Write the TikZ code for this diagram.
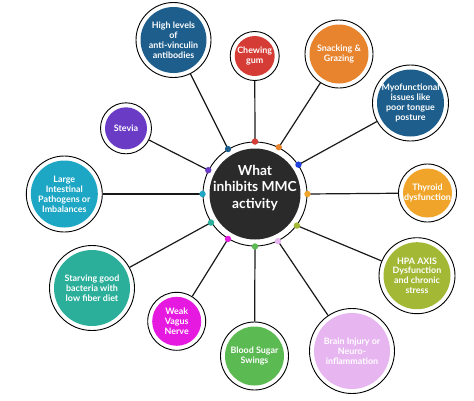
\documentclass[tikz,border=0pt]{standalone}
\usepackage{fontspec}
\setmainfont{Lato}
\begin{document}
\begin{tikzpicture}[x=1pt,y=-1pt,
  bub/.style 2 args={circle, draw=black, line width=0.9pt, fill=white,
    minimum size=#1pt, inner sep=0pt,
    path picture={\fill[#2] (path picture bounding box.center) circle[radius=#1/2*1pt-4.5pt];},
    font=\bfseries\fontsize{8.9}{9.9}\selectfont, text=white, align=center},
  conn/.style={line width=1.2pt, draw=black!90}
]
\definecolor{cdblue}{HTML}{1D5E8C}
\definecolor{cred}{HTML}{D63C36}
\definecolor{corange}{HTML}{E8832E}
\definecolor{cbright}{HTML}{2040E0}
\definecolor{cgold}{HTML}{F0A52A}
\definecolor{colive}{HTML}{A3B936}
\definecolor{clav}{HTML}{E7B5F0}
\definecolor{cgreen}{HTML}{5BBA52}
\definecolor{cmag}{HTML}{E619E0}
\definecolor{cteal}{HTML}{2BAF9A}
\definecolor{ccyan}{HTML}{1EA7C5}
\definecolor{cpurple}{HTML}{6A3CC6}
\definecolor{cdark}{HTML}{2A2A2A}
\useasboundingbox (0,0) rectangle (474,400);
% central
\node[circle, draw=black, line width=0.9pt, fill=white, minimum size=104pt, inner sep=0pt,
  path picture={\fill[cdark] (path picture bounding box.center) circle[radius=45.5pt];}]
  (c) at (255,194) {};
\node[font=\bfseries\fontsize{13.8}{16.3}\selectfont, text=white, align=center]
  (ct) at (255,188) {What\\inhibits MMC\\activity};
% outer bubbles
\node[bub={75}{cdblue}] (hl) at (173.5,40) {High levels\\of\\anti-vinculin\\antibodies};
\node[bub={49}{cred}] (cg) at (254.7,56) {Chewing\\gum};
\node[bub={68}{corange}] (sg) at (339,54) {Snacking \&\\Grazing};
\node[bub={76}{cdblue}] (my) at (410.5,103) {Myofunctional\\issues like\\poor tongue\\posture};
\node[bub={58}{cgold}] (th) at (427.5,193) {Thyroid\\dysfunction};
\node[bub={76}{colive}] (hp) at (417,275.7) {HPA AXIS\\Dysfunction\\and chronic\\stress};
\node[bub={85}{clav}] (br) at (352,351) {Brain Injury or\\Neuro-\\inflammation};
\node[bub={68}{cgreen}] (bs) at (254.5,356) {Blood Sugar\\Swings};
\node[bub={58}{cmag}] (wv) at (176.7,321.3) {Weak\\Vagus\\Nerve};
\node[bub={85}{cteal}] (sb) at (92,288) {Starving good\\bacteria with\\low fiber diet};
\node[bub={76}{ccyan}] (li) at (64.3,194) {Large\\Intestinal\\Pathogens or\\Imbalances};
\node[bub={51}{cpurple}] (st) at (126,128.3) {Stevia};
% connectors
\foreach \a/\n in {121/hl,90/cg,63/sg,34/my,0/th,-37/hp,-64/br,-90/bs,-121/wv,-147/sb,180/li,153/st}
  \draw[conn] (c.\a) -- (\n);
% dots
\foreach \a/\col in {121/cdblue,90/cred,63/corange,34/cbright,0/cgold,-37/colive,-64/clav,-90/cgreen,-121/cmag,-147/cteal,180/ccyan,153/cpurple}
  \fill[\col] (c.\a) circle[radius=3.2pt];
\end{tikzpicture}
\end{document}
